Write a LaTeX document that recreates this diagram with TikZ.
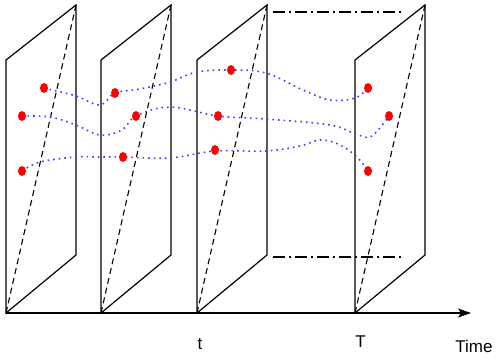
\documentclass[tikz,border=0pt]{standalone}
\usepackage{fontspec}
\setmainfont{Liberation Sans}
\usetikzlibrary{arrows.meta,shapes.geometric}
\definecolor{trajblue}{RGB}{70,60,255}
\tikzset{
  panelline/.style={line width=1.2pt, line join=miter},
  diag/.style={line width=1.1pt, dash pattern=on 6pt off 4pt},
  dashdotline/.style={line width=1.1pt, dash pattern=on 12pt off 4pt on 2pt off 4pt},
  traj/.style={trajblue, line width=1.6pt, dash pattern=on 1.6pt off 4pt},
  dot/.style={ellipse, fill=red, inner sep=0pt, minimum width=8pt, minimum height=10pt},
  lbl/.style={font=\fontsize{17}{20}\selectfont, inner sep=0pt},
}
\begin{document}
\begin{tikzpicture}[x=1pt,y=-1pt]
\useasboundingbox (0,0) rectangle (500,357);
% panels
\foreach \px/\nm in {6/a,101/b,197/c,355/d}{
  \coordinate (\nm bl) at (\px,313);
  \coordinate (\nm tl) at (\px,60);
  \coordinate (\nm tr) at (\px+70,5);
  \coordinate (\nm br) at (\px+70,255);
  \draw[panelline] (\nm bl) -- (\nm tl) -- (\nm tr) -- (\nm br) -- cycle;
  \draw[diag] (\nm bl) -- (\nm tr);
}
% dash-dot connectors between panel 3 and 4
\coordinate (u1) at (273,12); \coordinate (u2) at (403,12);
\coordinate (l1) at (273,257); \coordinate (l2) at (403,257);
\draw[dashdotline] (u1) -- (u2);
\draw[dashdotline] (l1) -- (l2);
% time axis
\coordinate (axend) at (471,313);
\draw[line width=1.2pt, -{Stealth[length=13pt,width=9pt,inset=3pt]}] (abl) -- (axend);
% trajectories
\draw[traj] plot[smooth, tension=0.6] coordinates {(44,88) (76,96) (100,105) (115,93) (140,89) (170,82) (197,72) (231,70) (266,73) (303,90) (330,100) (355,98) (368,88)};
\draw[traj] plot[smooth, tension=0.6] coordinates {(22,116) (50,117) (76,125) (100,135) (122,130) (136,116) (170,107) (218,116) (266,119) (330,125) (358,135) (372,136) (389,116)};
\draw[traj] plot[smooth, tension=0.6] coordinates {(22,171) (40,162) (76,157) (100,157) (123,157) (170,158) (215,151) (266,151) (300,146) (320,140) (338,144) (356,156) (368,171)};
% dots
\node[dot] (p11) at (44,88) {};
\node[dot] (p12) at (22,116) {};
\node[dot] (p13) at (22,171) {};
\node[dot] (p21) at (115,93) {};
\node[dot] (p22) at (136,116) {};
\node[dot] (p23) at (123,157) {};
\node[dot] (p31) at (231,70) {};
\node[dot] (p32) at (218,116) {};
\node[dot] (p33) at (215,150) {};
\node[dot] (p41) at (368,88) {};
\node[dot] (p42) at (389,116) {};
\node[dot] (p43) at (368,171) {};
% labels
\node[lbl] (tl) at (200,344) {t};
\node[lbl] (Tl) at (360.5,341.5) {T};
\node[lbl] (timel) at (474,346) {Time};
\end{tikzpicture}
\end{document}
